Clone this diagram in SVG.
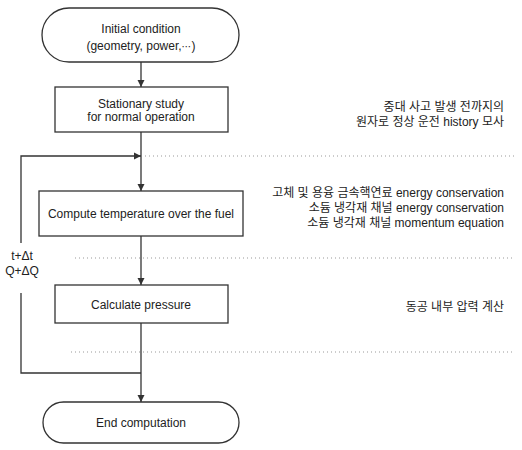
<svg xmlns="http://www.w3.org/2000/svg" width="522" height="450" viewBox="0 0 522 450">
<style>
.shape{fill:#fff;stroke:#333;stroke-width:1.3}
.line{fill:none;stroke:#333;stroke-width:1.3}
.dot{fill:none;stroke:#999;stroke-width:1;stroke-dasharray:1 3}
text{font-family:"Liberation Sans",Arial,"Noto Sans CJK KR",sans-serif;font-size:12px;fill:#222}
.c{text-anchor:middle}
.r{text-anchor:end}
.m{font-family:"DejaVu Sans",sans-serif;font-size:10px}
</style>
<defs>
<marker id="ah" markerWidth="8" markerHeight="8" refX="7" refY="4" orient="auto" markerUnits="userSpaceOnUse">
<path d="M0,0.5 L7,4 L0,7.5 Z" fill="#333"/>
</marker>
</defs>
<rect width="522" height="450" fill="#fff"/>
<g id="connectors">
<line class="dot" x1="145" y1="156" x2="514" y2="156"/>
<line class="dot" x1="75" y1="258" x2="514" y2="258"/>
<line class="dot" x1="71" y1="352" x2="514" y2="352"/>
<line class="line" x1="141" y1="62" x2="141" y2="87" marker-end="url(#ah)"/>
<line class="line" x1="141" y1="132" x2="141" y2="191" marker-end="url(#ah)"/>
<line class="line" x1="141" y1="236" x2="141" y2="285" marker-end="url(#ah)"/>
<line class="line" x1="141" y1="323" x2="141" y2="402" marker-end="url(#ah)"/>
<polyline class="line" points="141,373 21,373 21,293"/>
<polyline class="line" points="21,243 21,156 141,156" marker-end="url(#ah)"/>
<text class="c" x="22" y="260">t+Δt</text>
<text class="c" x="22" y="275">Q+ΔQ</text>
</g>
<g id="start">
<rect class="shape" x="42" y="8" width="197" height="54" rx="27" ry="27"/>
<text class="c" x="141" y="33">Initial condition</text>
<text class="c" x="141" y="50">(geometry, power,<tspan class="m">⋯</tspan>)</text>
</g>
<g id="stationary">
<rect class="shape" x="55" y="87" width="173" height="45"/>
<text class="c" x="141" y="108">Stationary study</text>
<text class="c" x="141" y="121">for normal operation</text>
</g>
<g id="compute">
<rect class="shape" x="39" y="191" width="204" height="45"/>
<text class="c" x="141" y="218">Compute temperature over the fuel</text>
</g>
<g id="pressure">
<rect class="shape" x="55" y="285" width="173" height="38"/>
<text class="c" x="141" y="309">Calculate pressure</text>
</g>
<g id="end">
<rect class="shape" x="43" y="402" width="196" height="41" rx="20.5" ry="20.5"/>
<text class="c" x="141" y="427">End computation</text>
</g>
<g id="notes">
<text class="r" x="504" y="111">중대 사고 발생 전까지의</text>
<text class="r" x="504" y="126">원자로 정상 운전 history 모사</text>
<text class="r" x="504" y="197">고체 및 용융 금속핵연료 energy conservation</text>
<text class="r" x="504" y="212">소듐 냉각재 채널 energy conservation</text>
<text class="r" x="504" y="227">소듐 냉각재 채널 momentum equation</text>
<text class="r" x="504" y="311">동공 내부 압력 계산</text>
</g>
</svg>
